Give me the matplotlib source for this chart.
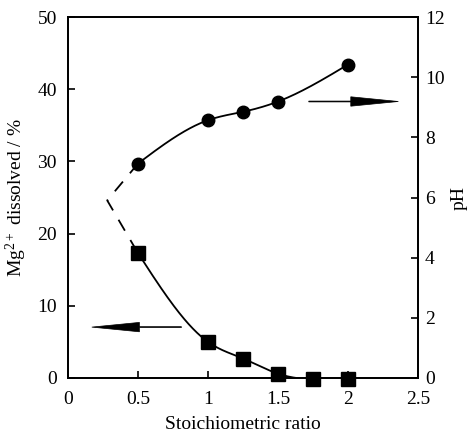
import numpy as np
import matplotlib
matplotlib.use("Agg")
from matplotlib import pyplot as plt

# data
ratio_mg = [0.5, 1.0, 1.25, 1.5, 1.75, 2.0]
mg_dissolved = [17.3, 5.0, 2.7, 0.6, -0.2, -0.1]

ratio_ph = [0.5, 1.0, 1.25, 1.5, 2.0]
ph_value = [7.13, 8.57, 8.85, 9.19, 10.42]

# dashed extrapolation towards low ratios (left axis units)
dash_x = [0.5, 0.28, 0.5]
dash_y = [29.7, 24.6, 17.3]

x_ticks = [0, 0.5, 1, 1.5, 2, 2.5]
x_tick_labels = ["0", "0.5", "1", "1.5", "2", "2.5"]
left_ticks = [0, 10, 20, 30, 40, 50]
right_ticks = [0, 2, 4, 6, 8, 10, 12]


def natural_spline(x, y, n=200):
    """smooth line through the points (natural cubic spline)"""
    x = np.asarray(x, float)
    y = np.asarray(y, float)
    k = len(x)
    h = np.diff(x)
    A = np.zeros((k, k))
    b = np.zeros(k)
    A[0, 0] = 1
    A[-1, -1] = 1
    for i in range(1, k - 1):
        A[i, i - 1] = h[i - 1]
        A[i, i] = 2 * (h[i - 1] + h[i])
        A[i, i + 1] = h[i]
        b[i] = 3 * ((y[i + 1] - y[i]) / h[i] - (y[i] - y[i - 1]) / h[i - 1])
    c = np.linalg.solve(A, b)
    xs = np.linspace(x[0], x[-1], n)
    ys = np.empty_like(xs)
    for j, xv in enumerate(xs):
        i = min(np.searchsorted(x, xv, side="right") - 1, k - 2)
        dx = xv - x[i]
        bi = (y[i + 1] - y[i]) / h[i] - h[i] * (2 * c[i] + c[i + 1]) / 3
        di = (c[i + 1] - c[i]) / (3 * h[i])
        ys[j] = y[i] + bi * dx + c[i] * dx ** 2 + di * dx ** 3
    return xs, ys


plt.rcParams["font.family"] = ["Liberation Serif", "DejaVu Serif"]
plt.rcParams["mathtext.default"] = "regular"
plt.rcParams["font.size"] = 14

fig = plt.figure(figsize=(4.71, 4.32), dpi=100)
ax = fig.add_axes([0.1444, 0.125, 0.743, 0.8356])
ax2 = ax.twinx()

# Mg2+ dissolved (left axis)
sx, sy = natural_spline(ratio_mg, mg_dissolved)
ax.plot(sx, sy, color="black", lw=1.3, zorder=2)
ax.plot(ratio_mg, mg_dissolved, "s", color="black", ms=10, zorder=3,
        clip_on=False)
ax.plot(dash_x, dash_y, color="black", lw=1.3, dashes=(7, 6))

# pH (right axis)
px, py = natural_spline(ratio_ph, ph_value)
ax2.plot(px, py, color="black", lw=1.3, zorder=2)
ax2.plot(ratio_ph, ph_value, "o", color="black", ms=9, zorder=3)

# arrows pointing at the matching axis
ax.arrow(0.81, 7.05, -0.64, 0, width=0.12, head_width=1.3, head_length=0.34,
         length_includes_head=True, fc="black", ec="black", lw=0.5)
ax.arrow(1.72, 38.3, 0.64, 0, width=0.12, head_width=1.3, head_length=0.34,
         length_includes_head=True, fc="black", ec="black", lw=0.5)

ax.set_xlim(0, 2.5)
ax.set_ylim(0, 50)
ax2.set_ylim(0, 12)
ax.set_xticks(x_ticks)
ax.set_xticklabels(x_tick_labels)
ax.set_yticks(left_ticks)
ax2.set_yticks(right_ticks)

ax.tick_params(direction="in", length=5, width=1.2, pad=8)
ax.tick_params(axis="x", pad=9)
ax2.tick_params(direction="in", length=5, width=1.2, pad=5)
for a in (ax, ax2):
    for s in a.spines.values():
        s.set_linewidth(1.3)

ax.set_xlabel("Stoichiometric ratio", labelpad=6)
ax.set_ylabel("Mg$^{2+}$ dissolved / %", labelpad=6)
ax2.set_ylabel("pH", labelpad=4)

fig.savefig("out.png", dpi=100)
